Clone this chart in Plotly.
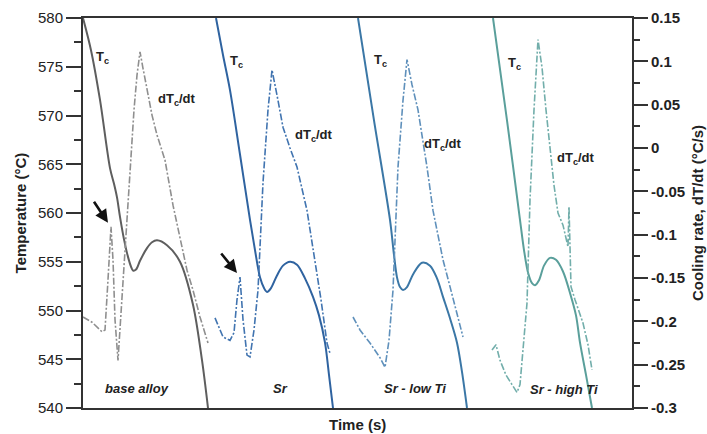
import plotly.graph_objects as go

# ---------------- data (time in s, temperature in °C, cooling rate in °C/s) ----------------
base_tc_t = [0, 8, 17, 27, 31, 34, 37, 41, 45, 48, 50, 53, 57, 64, 69, 74, 84, 97, 110, 119, 125]
base_tc_T = [580, 576.7, 571.6, 564.6, 563.0, 561.6, 559.6, 557.3, 555.5, 554.5, 554.1, 554.2,
             555.1, 556.4, 557.0, 557.2, 556.7, 555.0, 550.6, 544.9, 540.0]
base_cr_t = [0, 9, 19, 22, 25, 28, 30, 32, 35, 39, 43, 47, 51, 54, 57, 60, 64, 69, 74, 82, 90, 97,
             104, 110, 117, 125]
base_cr = [-0.195, -0.201, -0.212, -0.210, -0.152, -0.091, -0.129, -0.198, -0.245, -0.175, -0.095,
           -0.025, 0.044, 0.084, 0.111, 0.092, 0.069, 0.038, 0.015, -0.014, -0.066, -0.103, -0.141,
           -0.164, -0.195, -0.225]

sr_tc_t = [133, 140, 147, 157, 167, 172, 177, 181, 184, 188, 194, 200, 207, 214, 222, 230, 236,
           242, 246, 250]
sr_tc_T = [580, 576.2, 572.6, 566.0, 559.3, 556.2, 553.4, 552.3, 551.9, 552.3, 553.6, 554.6, 555.0,
           554.7, 553.3, 551.4, 549.5, 546.7, 543.4, 540.0]
sr_cr_t = [132, 140, 147, 151, 154, 157, 160, 164, 167, 171, 175, 180, 185, 189, 194, 200, 207, 214,
           224, 232, 238, 244, 247]
sr_cr = [-0.196, -0.218, -0.222, -0.213, -0.175, -0.149, -0.198, -0.239, -0.241, -0.210, -0.164,
         -0.040, 0.044, 0.090, 0.061, 0.024, 0.000, -0.022, -0.072, -0.129, -0.175, -0.225, -0.237]

lo_tc_t = [275, 291, 307, 311, 314, 317, 320, 324, 330, 339, 347, 354, 360, 367, 374, 379, 384]
lo_tc_T = [580, 569.5, 559.3, 555.7, 553.4, 552.4, 552.1, 552.4, 553.7, 554.9, 554.6, 553.3, 551.4,
           549.2, 546.7, 543.7, 540.0]
lo_cr_t = [270, 277, 287, 297, 302, 306, 310, 315, 320, 324, 329, 335, 344, 350, 354, 360, 367,
           374, 380]
lo_cr = [-0.195, -0.210, -0.225, -0.242, -0.253, -0.222, -0.164, -0.022, 0.055, 0.102, 0.073, 0.044,
         -0.022, -0.072, -0.095, -0.129, -0.160, -0.193, -0.218]

hi_tc_t = [410, 424, 437, 441, 445, 449, 452, 456, 461, 467, 473, 480, 487, 493, 497, 503, 509]
hi_tc_T = [580, 569.5, 559.3, 556.2, 553.9, 552.8, 552.6, 553.1, 554.6, 555.4, 555.2, 554.0, 551.8,
           549.5, 546.7, 543.4, 540.0]
hi_cr_t = [409, 413, 417, 423, 429, 434, 437, 441, 444, 447, 451, 455, 459, 463, 467, 471, 475, 480,
           485, 486, 488, 492, 500, 505, 509]
hi_cr = [-0.233, -0.227, -0.245, -0.262, -0.273, -0.282, -0.273, -0.222, -0.179, -0.060, 0.044,
         0.125, 0.093, 0.044, -0.002, -0.043, -0.075, -0.089, -0.114, -0.068, -0.160, -0.175,
         -0.202, -0.227, -0.256]

left_ticks = [540, 545, 550, 555, 560, 565, 570, 575, 580]
right_ticks = [-0.3, -0.25, -0.2, -0.15, -0.1, -0.05, 0, 0.05, 0.1, 0.15]
right_labels = ["-0.3", "-0.25", "-0.2", "-0.15", "-0.1", "-0.05", "0", "0.05", "0.1", "0.15"]

alloys = ["base alloy", "Sr", "Sr - low Ti", "Sr - high Ti"]
tc_colors = ["#5e5e5e", "#2f63a0", "#3b77a6", "#5a9f9b"]
cr_colors = ["#8f8f8f", "#4174b0", "#5f90bb", "#72aeab"]

FONT = "Arial, 'Liberation Sans', sans-serif"

fig = go.Figure()
series = [
    (base_tc_t, base_tc_T, base_cr_t, base_cr),
    (sr_tc_t, sr_tc_T, sr_cr_t, sr_cr),
    (lo_tc_t, lo_tc_T, lo_cr_t, lo_cr),
    (hi_tc_t, hi_tc_T, hi_cr_t, hi_cr),
]
for i, (tt, TT, ct, cc) in enumerate(series):
    fig.add_trace(go.Scatter(x=ct, y=cc, yaxis="y2", mode="lines",
                             line=dict(color=cr_colors[i], width=1.6, dash="7px,2px,2px,2px"),
                             showlegend=False, hoverinfo="skip"))
    fig.add_trace(go.Scatter(x=tt, y=TT, mode="lines",
                             line=dict(color=tc_colors[i], width=2, shape="spline", smoothing=0.9),
                             showlegend=False, hoverinfo="skip"))

# curve labels
tc_label_pos = [(19, 576.0), (153, 575.5), (297, 575.6), (431, 575.3)]
dt_label_pos = [(94, 571.6), (231, 568.0), (360, 567.0), (493, 565.6)]
alloy_label_pos = [(54, 542.05), (197, 542.05), (332, 542.05), (481, 541.85)]
for i in range(4):
    fig.add_annotation(x=tc_label_pos[i][0], y=tc_label_pos[i][1], text="<b>T<sub>c</sub></b>",
                       showarrow=False, font=dict(size=13, color="#222", family=FONT))
    fig.add_annotation(x=dt_label_pos[i][0], y=dt_label_pos[i][1], text="<b>dT<sub>c</sub>/dt</b>",
                       showarrow=False, font=dict(size=13, color="#222", family=FONT))
    fig.add_annotation(x=alloy_label_pos[i][0], y=alloy_label_pos[i][1],
                       text="<b><i>" + alloys[i] + "</i></b>",
                       showarrow=False, font=dict(size=13, color="#222", family=FONT))

# arrows pointing to nucleation peaks
arrows = [((10, 561.3), (25, 559.0)), ((137, 556.0), (154, 553.85))]
for (tail, tip) in arrows:
    fig.add_annotation(x=tip[0], y=tip[1], ax=tail[0], ay=tail[1], axref="x", ayref="y",
                       showarrow=True, arrowhead=2, arrowsize=1, arrowwidth=2.6,
                       arrowcolor="#111", text="")

# x-axis title
fig.add_annotation(x=0.5, y=0, xref="paper", yref="paper", yanchor="top", yshift=-6,
                   text="<b>Time (s)</b>", showarrow=False,
                   font=dict(family=FONT, size=15, color="#222"))

axis_font = dict(family=FONT, size=15, color="#222")
fig.update_layout(
    width=707, height=434,
    margin=dict(l=83, r=75, t=18, b=26, autoexpand=False),
    paper_bgcolor="white", plot_bgcolor="white",
    font=dict(family=FONT, color="#222"),
    xaxis=dict(range=[0, 549], showticklabels=False, ticks="", showgrid=False, zeroline=False,
               showline=True, mirror=True, linecolor="#333", linewidth=2, automargin=False),
    yaxis=dict(range=[540, 580], tickvals=left_ticks, ticks="outside", ticklen=15, tickwidth=2,
               tickcolor="#333", showgrid=False, zeroline=False, showline=True, linecolor="#333",
               linewidth=2, tickfont=dict(family=FONT, size=15, color="#222"),
               tickprefix="<b>", ticksuffix="</b>", automargin=False,
               minor=dict(dtick=2.5, ticks="outside", ticklen=7, tickwidth=2, tickcolor="#333"),
               title=dict(text="<b>Temperature (°C)</b>", font=axis_font, standoff=8)),
    yaxis2=dict(range=[-0.3, 0.15], overlaying="y", side="right", tickvals=right_ticks,
                ticktext=["<b>" + s + "</b>" for s in right_labels], ticks="outside", ticklen=14,
                tickwidth=2, tickcolor="#333", showgrid=False, zeroline=False, showline=True,
                linecolor="#333", linewidth=2, tickfont=dict(family=FONT, size=15, color="#222"),
                automargin=False,
                minor=dict(dtick=0.025, ticks="outside", ticklen=6, tickwidth=2, tickcolor="#333"),
                title=dict(text="<b>Cooling rate, dT/dt (°C/s)</b>", font=axis_font, standoff=8)),
)

fig.write_html("out.html")
